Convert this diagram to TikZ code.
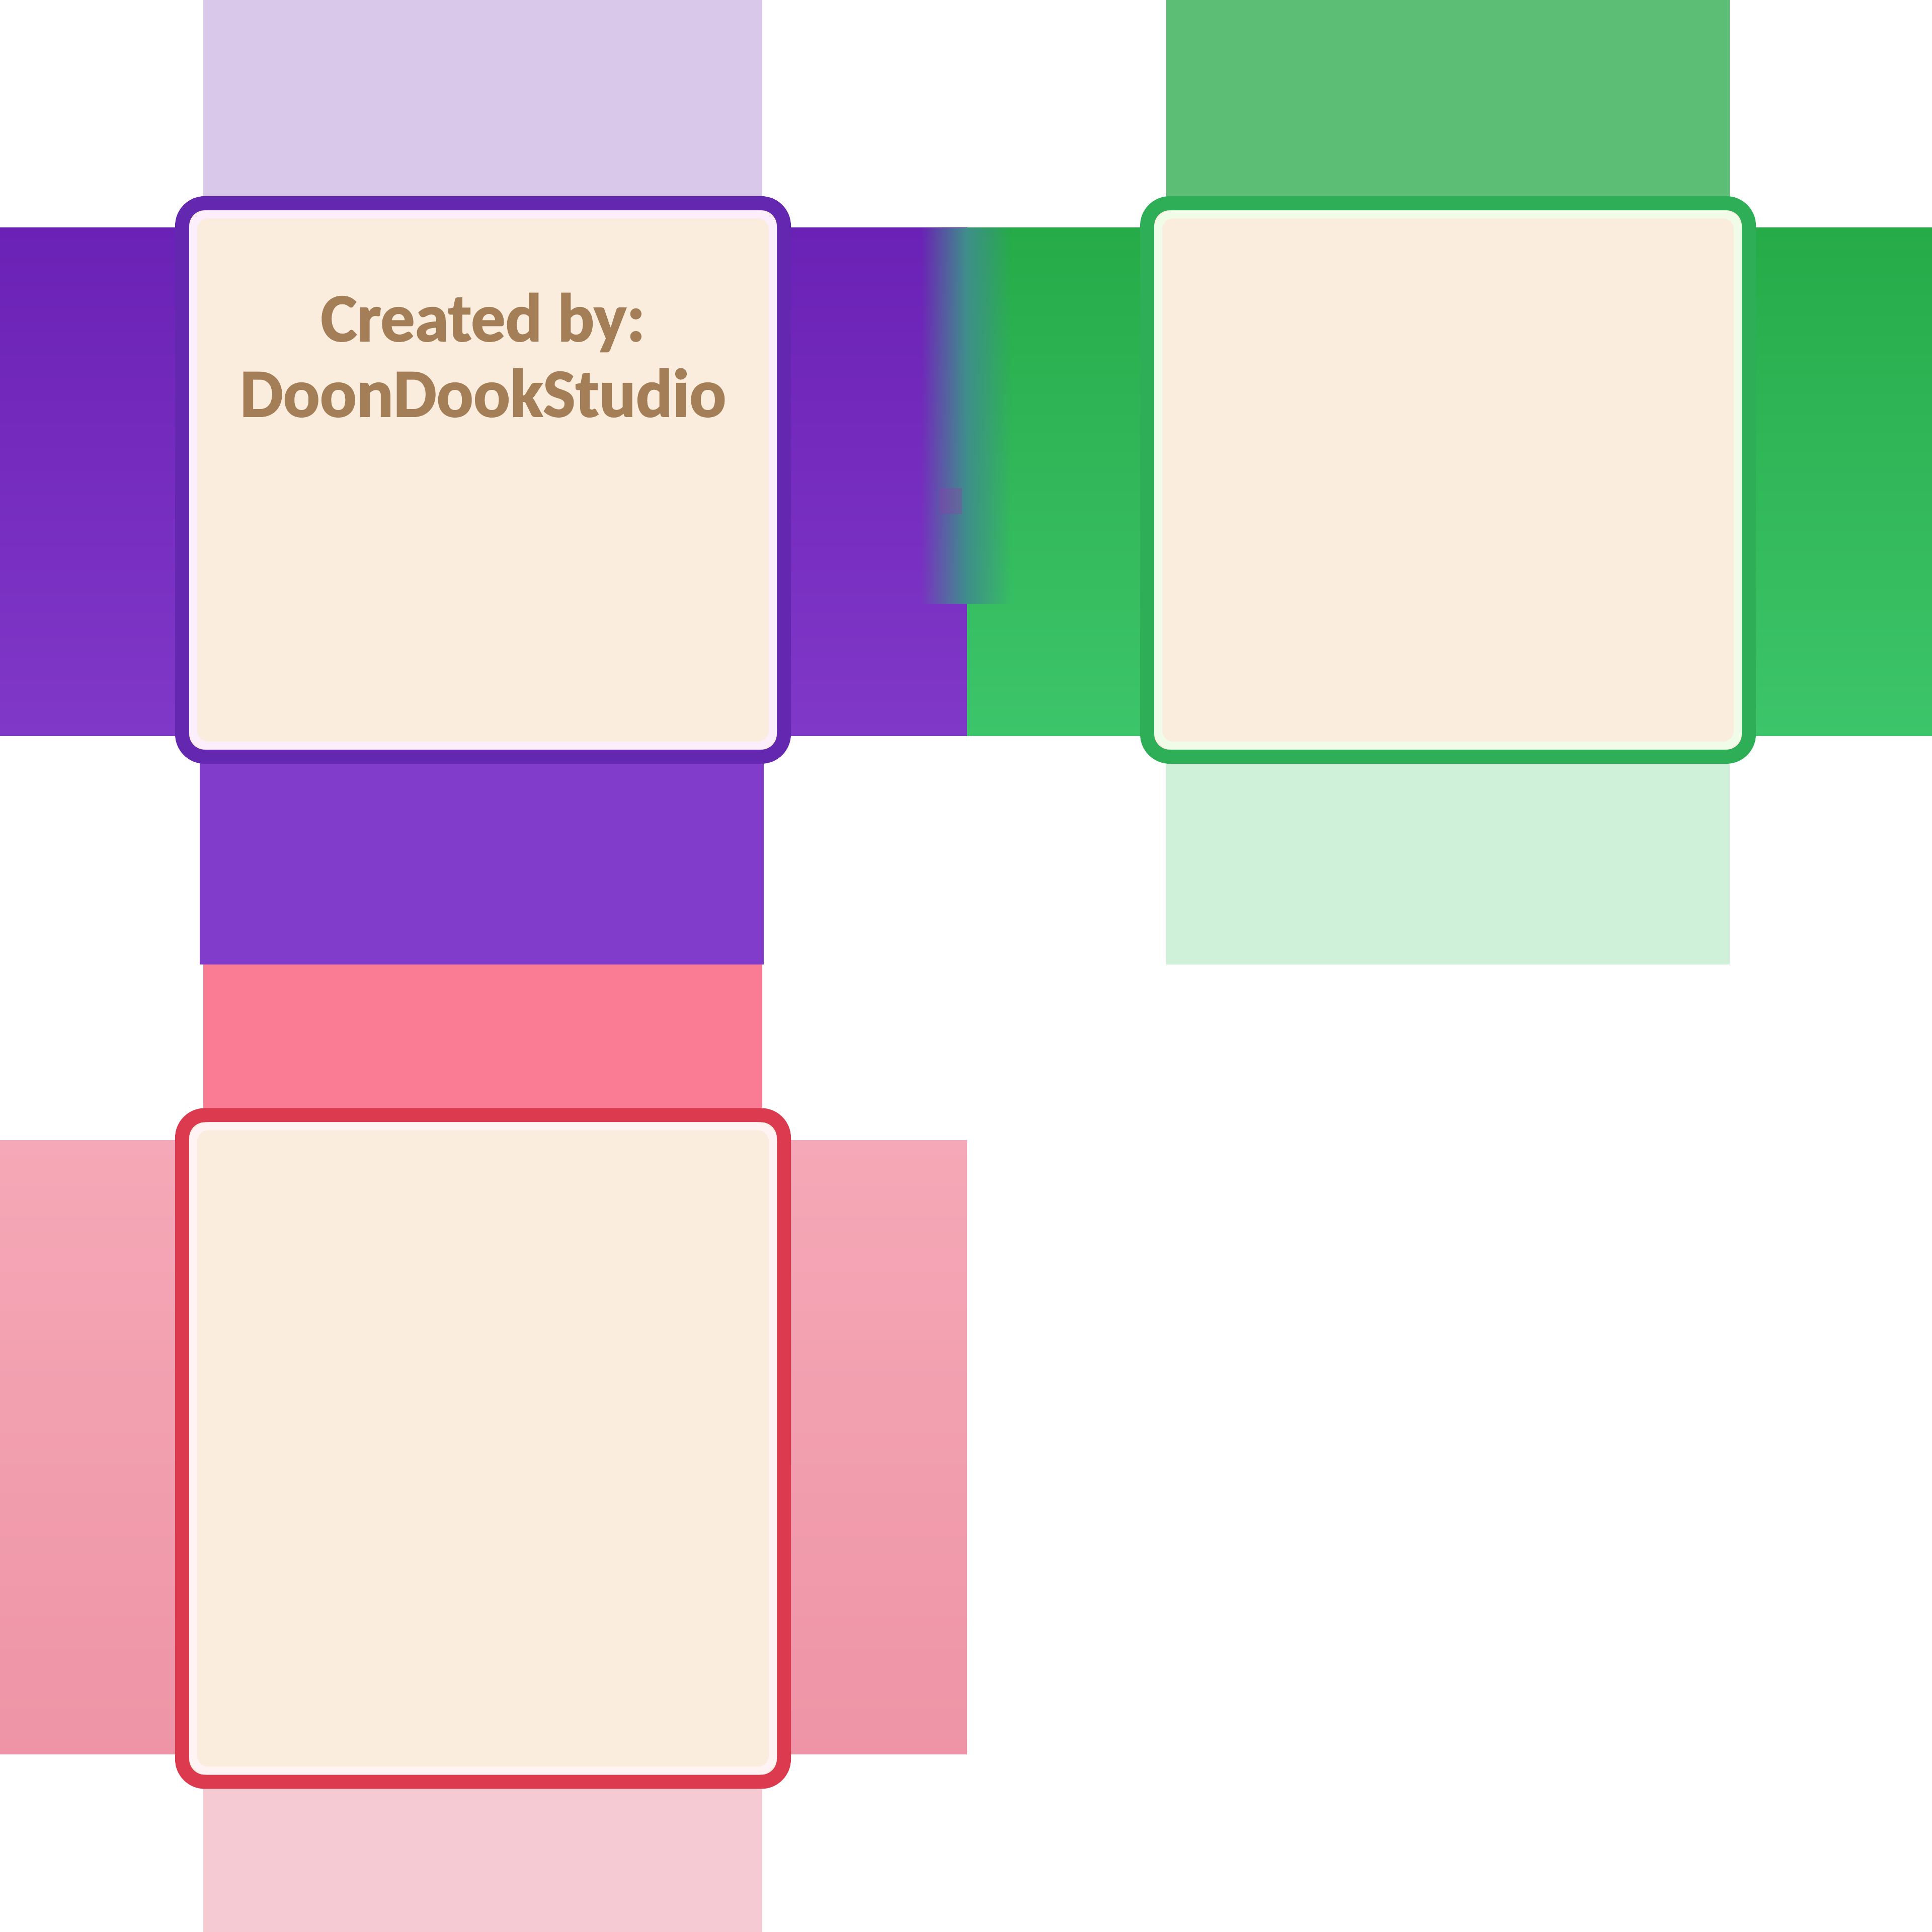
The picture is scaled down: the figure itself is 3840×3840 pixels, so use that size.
\documentclass[tikz,border=0pt]{standalone}
\usepackage{fontspec}
\setmainfont{Carlito}
\usetikzlibrary{fadings}
\definecolor{cream}{HTML}{FBEDDE}
\definecolor{pTop}{HTML}{D9C8EA}
\definecolor{pBandT}{HTML}{6A21B5}
\definecolor{pBandB}{HTML}{8038C9}
\definecolor{pBot}{HTML}{823CCB}
\definecolor{pBorder}{HTML}{6427B0}
\definecolor{pHl}{HTML}{FCEEFB}
\definecolor{gTop}{HTML}{5CBE74}
\definecolor{gBandT}{HTML}{26AB48}
\definecolor{gBandB}{HTML}{3DC56B}
\definecolor{gBot}{HTML}{CFF0D9}
\definecolor{gBorder}{HTML}{2EAF57}
\definecolor{gHl}{HTML}{F0FBE8}
\definecolor{rTop}{HTML}{FA7B94}
\definecolor{rBandT}{HTML}{F5A8B7}
\definecolor{rBandB}{HTML}{EE94A6}
\definecolor{rBot}{HTML}{F6CAD3}
\definecolor{rBorder}{HTML}{DC3A4F}
\definecolor{rHl}{HTML}{FFF4F3}
\definecolor{txt}{HTML}{A47E56}
\definecolor{blendc}{HTML}{3F8E8C}
\definecolor{magc}{HTML}{9040A8}
\tikzfading[name=midfade, left color=transparent!100, right color=transparent!100, middle color=transparent!0]
\begin{document}
\begin{tikzpicture}[x=1pt,y=1pt,
  cardbox/.style={rectangle, rounded corners=45pt, fill=cream, line width=28pt,
    minimum width=1196pt, inner sep=0pt, outer sep=0pt},
  hline/.style={line width=16pt, rounded corners=30pt},
  credit/.style={anchor=base, text=txt, font=\fontsize{136}{150}\selectfont\bfseries\addfontfeature{FakeBold=1.5}, inner sep=0pt}]
\useasboundingbox (0,0) rectangle (3840,3840);
\fill[white] (0,0) rectangle (3840,3840);
% purple strips and band
\fill[pTop] (404,3420) rectangle (1515,3840);
\shade[top color=pBandT, bottom color=pBandB] (0,2377) rectangle (1922,3387);
\fill[pBot] (397,1923) rectangle (1518,2340);
% green strips and band
\fill[gTop] (2318,3420) rectangle (3438,3840);
\shade[top color=gBandT, bottom color=gBandB] (1922,2377) rectangle (3840,3387);
\fill[gBot] (2318,1923) rectangle (3438,2340);
% blend between purple and green bands
\fill[blendc, path fading=midfade] (1830,2640) rectangle (2010,3387);
\fill[magc, opacity=0.35] (1868,2818) rectangle (1912,2870);
% pink strips and band
\fill[rTop] (404,1600) rectangle (1515,1923);
\shade[top color=rBandT, bottom color=rBandB] (0,353) rectangle (1922,1573);
\fill[rBot] (404,0) rectangle (1515,300);
% cards
\node[cardbox, draw=pBorder, minimum height=1100pt] (pcard) at (960,2886) {};
\node[cardbox, draw=gBorder, minimum height=1100pt] (gcard) at (2878,2886) {};
\node[cardbox, draw=rBorder, minimum height=1325pt] (rcard) at (960,961) {};
\draw[hline, pHl] ([shift={(22,22)}]pcard.south west) rectangle ([shift={(-22,-22)}]pcard.north east);
\draw[hline, gHl] ([shift={(22,22)}]gcard.south west) rectangle ([shift={(-22,-22)}]gcard.north east);
\draw[hline, rHl] ([shift={(22,22)}]rcard.south west) rectangle ([shift={(-22,-22)}]rcard.north east);
% text
\node[credit] (c1) at (960,3162) {Created by:};
\node[credit] (c2) at (960,3012) {DoonDookStudio};
\end{tikzpicture}
\end{document}
